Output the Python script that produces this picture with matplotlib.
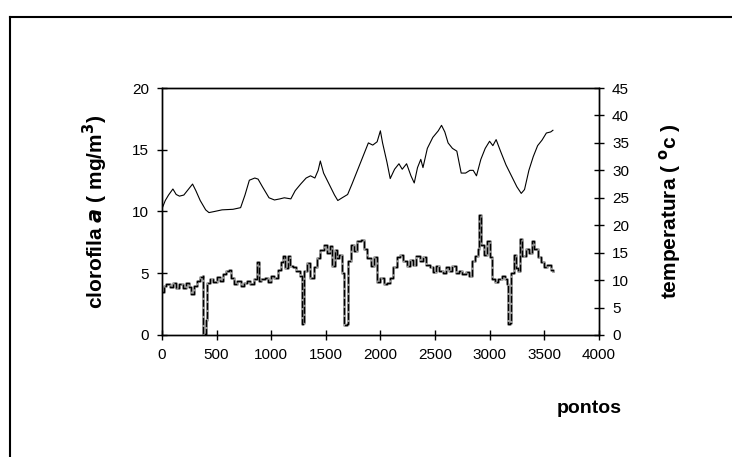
import matplotlib
matplotlib.use("Agg")
import matplotlib.pyplot as plt
from matplotlib.lines import Line2D

plt.rcParams['font.family'] = ['Liberation Sans', 'DejaVu Sans']

# clorofila a (mg/m3) vs pontos
chl_x = [0, 15, 40, 70, 100, 130, 160, 190, 220, 250, 270, 290, 320, 350, 375, 378, 400, 410,
         440, 470, 500, 530, 560, 590, 610, 630, 660, 690, 720, 750, 780, 810, 840, 870, 885,
         910, 940, 970, 1000, 1030, 1060, 1090, 1110, 1130, 1150, 1170, 1200, 1230, 1260, 1280,
         1295, 1305, 1330, 1360, 1390, 1420, 1450, 1480, 1510, 1540, 1560, 1580, 1600, 1620,
         1650, 1665, 1690, 1700, 1730, 1760, 1790, 1820, 1850, 1880, 1910, 1940, 1970, 2000,
         2030, 2060, 2090, 2120, 2150, 2180, 2210, 2240, 2270, 2300, 2330, 2360, 2390, 2420,
         2450, 2480, 2510, 2540, 2570, 2600, 2630, 2660, 2690, 2720, 2750, 2780, 2810, 2840,
         2870, 2890, 2905, 2920, 2950, 2980, 3000, 3020, 3050, 3080, 3110, 3140, 3160, 3170,
         3190, 3200, 3220, 3240, 3260, 3280, 3300, 3330, 3360, 3385, 3410, 3440, 3470, 3500,
         3530, 3560, 3580]
chl_y = [3.5, 4.0, 4.1, 3.9, 4.2, 3.8, 4.1, 3.8, 4.2, 3.9, 3.3, 4.0, 4.4, 4.7, 4.8, 0.1, 1.2, 4.2,
         4.5, 4.3, 4.7, 4.4, 4.9, 5.2, 5.3, 4.6, 4.1, 4.4, 4.0, 4.2, 4.4, 4.1, 4.5, 5.9, 4.4,
         4.5, 4.6, 4.3, 4.8, 4.6, 5.3, 5.9, 6.4, 5.4, 6.4, 5.6, 5.5, 5.2, 4.8, 0.9,
         1.0, 5.2, 5.8, 4.6, 5.5, 6.2, 6.9, 7.3, 6.6, 7.2, 5.6, 6.9, 6.2, 6.5,
         5.0, 0.8, 0.9, 6.0, 7.3, 6.8, 7.6, 7.7, 7.0, 6.2, 5.6, 6.3, 4.3, 4.6,
         4.1, 4.2, 4.6, 5.5, 6.3, 6.5, 6.0, 5.6, 6.1, 5.7, 6.4, 6.0, 6.3, 5.7,
         5.5, 5.1, 5.6, 5.2, 5.0, 5.5, 5.2, 5.6, 5.0, 5.2, 4.9, 5.1, 4.8, 6.0,
         6.4, 7.0, 9.7, 7.3, 6.5, 7.6, 6.3, 4.5, 4.3, 4.5, 4.8, 4.5, 4.1, 0.9,
         1.0, 5.0, 6.5, 5.4, 5.2, 7.8, 6.4, 7.0, 6.6, 7.6, 7.0, 6.3, 5.9, 5.5,
         5.7, 5.3, 5.2]

# temperatura (oC) vs pontos
temp_x = [0, 30, 60, 100, 130, 160, 200, 240, 280, 310, 350, 400, 430, 480, 550, 650, 720, 760,
          800, 850, 880, 920, 980, 1030, 1080, 1120, 1180, 1220, 1270, 1320, 1360, 1400, 1430,
          1450, 1480, 1530, 1580, 1610, 1650, 1700, 1740, 1800, 1850, 1890, 1930, 1970, 2000,
          2020, 2060, 2090, 2130, 2170, 2200, 2240, 2280, 2310, 2340, 2370, 2390, 2430, 2480,
          2530, 2560, 2590, 2620, 2660, 2700, 2740, 2780, 2820, 2850, 2880, 2920, 2960, 3000,
          3030, 3060, 3100, 3150, 3200, 3250, 3290, 3320, 3360, 3400, 3440, 3480, 3520, 3560, 3580]
temp_y = [23.0, 24.5, 25.5, 26.6, 25.6, 25.3, 25.5, 26.5, 27.5, 26.3, 24.5, 22.8, 22.3, 22.5,
          22.8, 22.9, 23.2, 25.5, 28.2, 28.6, 28.4, 27.0, 25.0, 24.6, 24.8, 25.0, 24.8, 26.3,
          27.5, 28.6, 29.0, 28.6, 30.0, 31.7, 29.5, 27.5, 25.5, 24.5, 25.0, 25.6, 27.5, 30.5,
          33.0, 35.0, 34.6, 35.2, 37.2, 35.0, 31.5, 28.5, 30.2, 31.2, 30.2, 31.2, 29.0, 27.7,
          30.5, 32.0, 30.5, 34.0, 36.0, 37.2, 38.2, 37.0, 35.0, 34.0, 33.5, 29.5, 29.5, 30.0,
          30.0, 29.0, 32.0, 34.0, 35.3, 34.5, 35.6, 33.5, 31.0, 29.0, 27.0, 25.8, 26.5, 30.0,
          32.5, 34.5, 35.5, 36.8, 37.0, 37.3]

x_ticks = [0, 500, 1000, 1500, 2000, 2500, 3000, 3500, 4000]
chl_ticks = [0, 5, 10, 15, 20]
temp_ticks = [0, 5, 10, 15, 20, 25, 30, 35, 40, 45]

fig = plt.figure(figsize=(7.32, 4.57), dpi=100)
ax = fig.add_axes([0.2213, 0.267, 0.5967, 0.5404])
ax2 = ax.twinx()

ax.step(chl_x, chl_y, where='post', color='#9a9a9a', lw=2.0, zorder=2)
ax.step(chl_x, chl_y, where='post', color='black', lw=1.0, dashes=(5, 1.5), zorder=3)
ax2.plot(temp_x, temp_y, color='black', lw=0.8)

ax.set_xlim(0, 4000)
ax.set_ylim(0, 20)
ax2.set_ylim(0, 45)
ax.set_xticks(x_ticks)
ax.set_yticks(chl_ticks)
ax2.set_yticks(temp_ticks)

for a in (ax, ax2):
    a.tick_params(direction='inout', length=7, width=1, labelsize=11, pad=6)
    for s in a.spines.values():
        s.set_linewidth(1.0)
        s.set_color('black')

ax.set_ylabel('clorofila $\\mathbfit{a}$ ( mg/m$^\\mathbf{3}$)', fontsize=15, fontweight='bold', labelpad=16)
ax2.set_ylabel('temperatura ( $^\\mathbf{o}$c )', fontsize=15, fontweight='bold', labelpad=20)
fig.text(0.805, 0.107, 'pontos', fontsize=14, fontweight='bold', ha='center', va='center')

# outer frame
fig.add_artist(Line2D([10/732, 1.0], [1 - 17/457, 1 - 17/457], transform=fig.transFigure, color='black', lw=1.5))
fig.add_artist(Line2D([10/732, 10/732], [0.0, 1 - 17/457], transform=fig.transFigure, color='black', lw=1.5))

fig.savefig('out.png', dpi=100)
